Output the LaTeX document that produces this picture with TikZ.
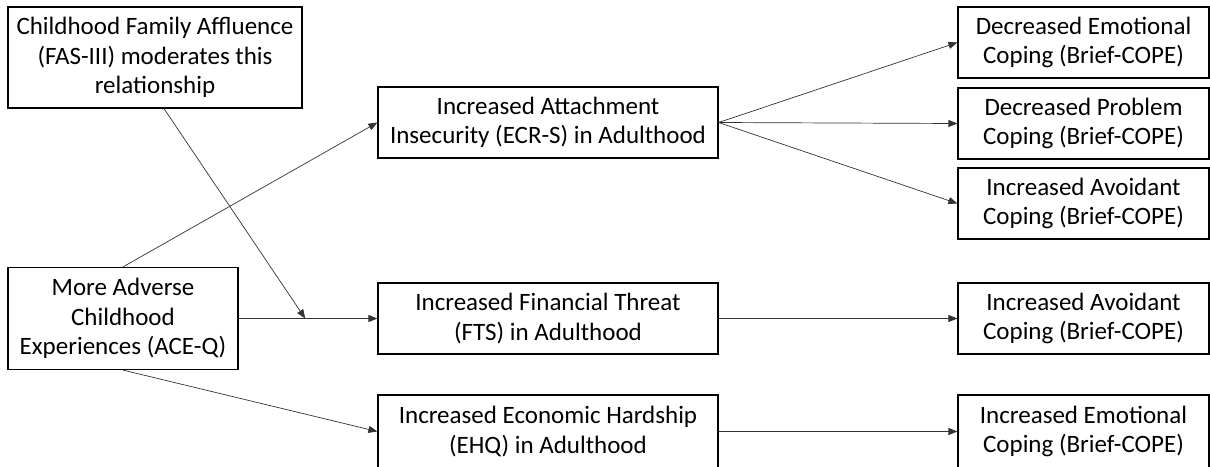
\documentclass[tikz,border=0pt]{standalone}
\usepackage{fontspec}
\setmainfont{Carlito}
\usetikzlibrary{arrows.meta,calc}
\begin{document}
\begin{tikzpicture}[x=1pt,y=-1pt,
  box/.style={draw=black,line width=1.2pt,inner sep=0pt,align=center,
    font=\fontsize{25}{29.5}\selectfont},
  link/.style={draw=black!80,line width=0.7pt,
    -{Triangle[length=9pt,width=7pt]}}]
\useasboundingbox (0,0) rectangle (1210,466);
% left column
\node[box,minimum width=294pt,minimum height=101pt] (fas) at (155,57.5)
  {Childhood Family Affluence\\(FAS-III) moderates this\\relationship};
\node[box,minimum width=230pt,minimum height=102pt] (ace) at (123,318.5)
  {More Adverse\\Childhood\\Experiences (ACE-Q)};
% mediators
\node[box,minimum width=340pt,minimum height=71pt] (att) at (548,122.5)
  {Increased Attachment\\Insecurity (ECR-S) in Adulthood};
\node[box,minimum width=340pt,minimum height=71pt] (fts) at (548,318.5)
  {Increased Financial Threat\\(FTS) in Adulthood};
\node[box,minimum width=340pt,minimum height=73pt] (ehq) at (548,431.5)
  {Increased Economic Hardship\\(EHQ) in Adulthood};
% coping outcomes
\node[box,minimum width=251pt,minimum height=71pt] (r1) at (1083.5,42.5)
  {Decreased Emotional\\Coping (Brief-COPE)};
\node[box,minimum width=251pt,minimum height=71pt] (r2) at (1083.5,123.5)
  {Decreased Problem\\Coping (Brief-COPE)};
\node[box,minimum width=251pt,minimum height=71pt] (r3) at (1083.5,203.5)
  {Increased Avoidant\\Coping (Brief-COPE)};
\node[box,minimum width=251pt,minimum height=71pt] (r4) at (1083.5,318.5)
  {Increased Avoidant\\Coping (Brief-COPE)};
\node[box,minimum width=251pt,minimum height=73pt] (r5) at (1083.5,431.5)
  {Increased Emotional\\Coping (Brief-COPE)};
% connectors
\coordinate (mod) at ($(ace.east)!0.48!(fts.west)$);
\coordinate (fasout) at ($(fas.south)+(9,0)$);
\draw[link] (ace.north) -- (att.west);
\draw[link] (ace.east) -- (fts.west);
\draw[link] (ace.south) -- (ehq.west);
\draw[link] (fasout) -- (mod);
\draw[link] (att.east) -- (r1.west);
\draw[link] (att.east) -- (r2.west);
\draw[link] (att.east) -- (r3.west);
\draw[link] (fts.east) -- (r4.west);
\draw[link] (ehq.east) -- (r5.west);
\end{tikzpicture}
\end{document}
